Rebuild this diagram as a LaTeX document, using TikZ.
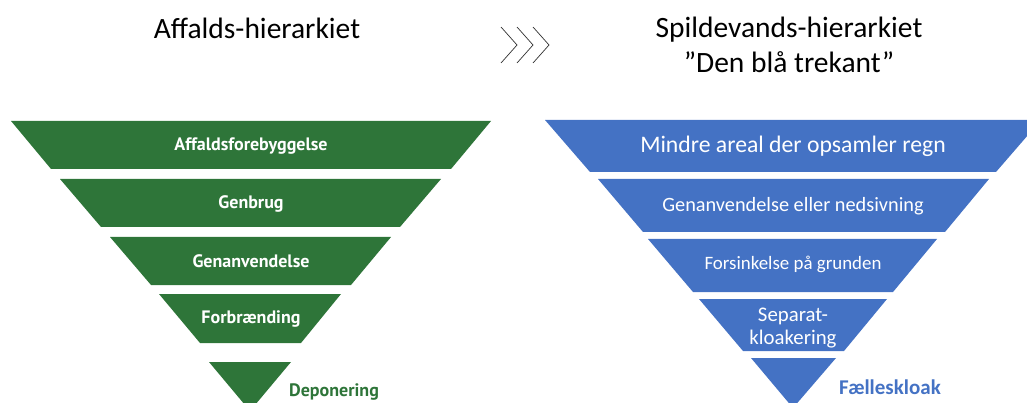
\documentclass[tikz,border=0pt]{standalone}
\usepackage{fontspec}
\usetikzlibrary{calc}
\setmainfont{Carlito}
\newfontfamily\greenfont{PT Sans}
\definecolor{wgreen}{HTML}{2E7539}
\definecolor{wblue}{HTML}{4472C4}
\definecolor{chev}{HTML}{303030}
\begin{document}
\begin{tikzpicture}[x=1pt,y=-1pt,
  gband/.style={fill=wgreen,draw=none},
  bband/.style={fill=wblue,draw=none},
  gtext/.style={text=white,font=\greenfont\bfseries\fontsize{18}{21}\selectfont,inner sep=0pt},
  btext/.style={text=white,inner sep=0pt,align=center},
  title/.style={text=black,inner sep=0pt,align=center,font=\fontsize{29.5}{35}\selectfont}]
\useasboundingbox (0,0) rectangle (1027,403);
\begin{scope}
\clip (0,0) rectangle (1027,403);
% left pyramid
\path[gband] (11,121) -- (491,121) -- (451,169) -- (51,169) -- cycle;
\path[gband] (60,179) -- (441,179) -- (400,227) -- (101,227) -- cycle;
\path[gband] (110,237) -- (391,237) -- (351,285) -- (151,285) -- cycle;
\path[gband] (159,294) -- (341,294) -- (301,343) -- (200,343) -- cycle;
\path[gband] (209,362) -- (291,362) -- (250,411) -- cycle;
% right pyramid
\path[bband] (545,120) -- (1041,120) -- (996,172) -- (590,172) -- cycle;
\path[bband] (598,179) -- (989,179) -- (945,232) -- (643,232) -- cycle;
\path[bband] (648,239) -- (937,239) -- (893,292) -- (693,292) -- cycle;
\path[bband] (699,299) -- (887,299) -- (844,351) -- (743,351) -- cycle;
\path[bband] (751,358) -- (836,358) -- (793,408) -- cycle;
\end{scope}
% green labels
\node[gtext] (g1) at (251,146) {Affaldsforebyggelse};
\node[gtext] (g2) at (251,204) {Genbrug};
\node[gtext] (g3) at (251,261) {Genanvendelse};
\node[gtext] (g4) at (251,319) {Forbrænding};
\node[gtext,text=wgreen,anchor=west] (g5) at (289,392) {Deponering};
% blue labels
\node[btext,font=\fontsize{23.7}{28}\selectfont] (b1) at (793,146) {Mindre areal der opsamler regn};
\node[btext,font=\fontsize{20.3}{24}\selectfont] (b2) at (793,206) {Genanvendelse eller nedsivning};
\node[btext,font=\fontsize{18.9}{22}\selectfont] (b3) at (793,264) {Forsinkelse på grunden};
\node[btext,font=\fontsize{20.8}{23}\selectfont] (b4) at (793,328) {Separat-\\kloakering};
\node[btext,text=wblue,anchor=west,font=\bfseries\fontsize{21}{25}\selectfont] (b5) at (839,387) {Fælleskloak};
% titles
\node[title] (t1) at (257,28) {Affalds-hierarkiet};
\node[title] (t2) at (789,45) {Spildevands-hierarkiet\\”Den blå trekant”};
% chevrons
\coordinate (c0) at (501,27);
\foreach \i in {0,1,2} {
  \draw[chev,line width=0.7pt] ($(c0)+(16*\i,0)$) -- ++(16,18) -- ++(-16,18);
}
\end{tikzpicture}
\end{document}
